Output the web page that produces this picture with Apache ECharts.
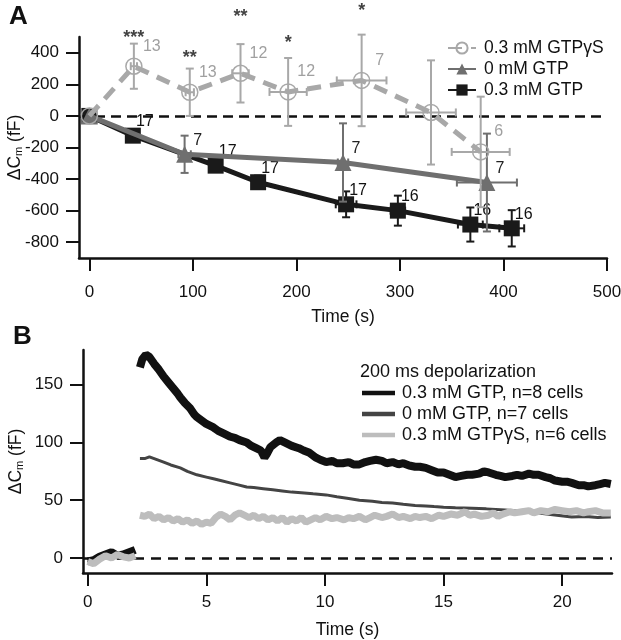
<!DOCTYPE html>
<html>
<head>
<meta charset="utf-8">
<script src="https://cdn.jsdelivr.net/npm/echarts@6/dist/echarts.min.js"></script>
<style>html,body{margin:0;padding:0;background:#fff}#c{width:621px;height:640px}</style>
</head>
<body>
<div id="c"></div>
<script>
// ---------- Panel A data ----------
const aTimeGTP = [0, 42, 122, 163, 248, 298, 368, 408];
const aValGTP  = [0, -125, -315, -420, -560, -600, -688, -712];
const aYErrGTP = [0, 20, 30, 42, 82, 95, 108, 115];
const aXErrGTP = [0, 3, 4, 5, 10, 7, 12, 12];
const aNGTP    = ['', '17', '17', '17', '17', '16', '16', '16'];

const aTime0 = [0, 92, 245, 384];
const aVal0  = [0, -243, -295, -422];
const aYErr0 = [0, 118, 248, 310];
const aXErr0 = [0, 6, 5, 29];
const aN0    = ['', '7', '7', '7'];

const aTimeS = [0, 43, 97, 146, 192, 263, 330, 378];
const aValS  = [0, 315, 150, 270, 152, 225, 22, -228];
const aYErrS = [0, 143, 150, 185, 215, 290, 330, 350];
const aXErrS = [0, 3, 4, 8, 18, 24, 24, 28];
const aNS    = ['', '13', '13', '12', '12', '7', '', '6'];

const starX = [43, 97, 146, 192, 263];
const starY = [493, 367, 626, 462, 665];
const starText = ['***', '**', '**', '*', '*'];

const aXTicks = [0, 100, 200, 300, 400, 500];
const aYTicks = [-800, -600, -400, -200, 0, 200, 400];

// ---------- Panel B data ----------
const baseT = [0, 0.25, 0.5, 0.75, 1.0, 1.25, 1.5, 1.75, 2.0];
const baseGTP = [-3, -2, 1, 3, 5, 2, 3, 5, 7];
const base0   = [-4, -2, 0, 1, 2, 1, 2, 0, 1];
const baseS   = [-3, -5, -1, 2, 0, 3, 1, 0, 2];

const bTGTP = [2.2, 2.3, 2.45, 2.6, 2.8, 3.0, 3.2, 3.4, 3.6, 3.8, 3.9, 4.1, 4.3, 4.5, 4.6, 4.8, 5.0, 5.3, 5.5, 5.7, 6.0, 6.2, 6.4, 6.7, 6.9, 7.1, 7.3, 7.45, 7.55, 7.7, 7.95, 8.1, 8.3, 8.6, 8.9, 9.1, 9.35, 9.6, 9.8, 10.05, 10.3, 10.5, 10.75, 11.0, 11.2, 11.45, 11.7, 11.9, 12.15, 12.4, 12.6, 12.85, 13.1, 13.3, 13.55, 13.8, 14.0, 14.25, 14.5, 14.75, 15.0, 15.25, 15.5, 15.75, 16.0, 16.2, 16.5, 16.7, 16.9, 17.2, 17.4, 17.6, 17.9, 18.1, 18.3, 18.6, 18.8, 19.0, 19.3, 19.5, 19.7, 20.0, 20.2, 20.4, 20.7, 20.9, 21.1, 21.4, 21.6, 21.8, 22.05];
const bVGTP = [165, 172, 176, 174, 168, 163, 157, 152, 147, 142, 139, 134, 130, 124, 122, 119, 116, 113, 110, 108, 105, 104, 102, 100, 97, 95, 93, 87, 90, 96, 100, 102, 100, 97, 95, 93, 91, 87, 85, 83, 84, 82, 82, 83, 81, 81, 83, 84, 85, 84, 82, 83, 81, 82, 80, 79, 79, 78, 76, 74, 74, 72, 70, 71, 72, 72, 73, 75, 74, 72, 71, 70, 71, 72, 71, 73, 72, 72, 70, 69, 67, 66, 66, 65, 63, 63, 62, 63, 64, 65, 64];

const bT0 = [2.2, 2.4, 2.6, 2.8, 3.0, 3.2, 3.5, 3.9, 4.2, 4.6, 5.0, 5.3, 5.6, 6.0, 6.3, 6.7, 7.0, 7.4, 7.8, 8.2, 8.6, 9.0, 9.5, 10.05, 10.5, 11.0, 11.45, 12.0, 12.4, 12.85, 13.3, 13.8, 14.25, 14.6, 15.0, 15.5, 16.2, 16.8, 17.6, 18.2, 19.0, 19.6, 20.4, 21.0, 21.5, 22.05];
const bV0 = [86, 86, 87.5, 86, 84.5, 83, 80.5, 78, 75, 72, 70, 68.5, 67, 65, 63.5, 61.5, 61, 60, 59, 58, 57, 56.5, 55.5, 54.6, 53, 51.5, 50, 49, 48, 47.6, 46.5, 45.5, 45, 44.5, 44, 43.5, 43, 42.5, 41.6, 40.5, 39, 37.5, 35.5, 36, 35, 35.5];

const bTS = [2.2, 2.4, 2.6, 2.8, 3.0, 3.2, 3.4, 3.6, 3.8, 4.0, 4.2, 4.4, 4.6, 4.8, 5.0, 5.2, 5.4, 5.6, 5.8, 6.0, 6.2, 6.4, 6.6, 6.8, 7.0, 7.2, 7.4, 7.6, 7.8, 8.0, 8.2, 8.4, 8.6, 8.8, 9.0, 9.2, 9.4, 9.6, 9.8, 10.05, 10.3, 10.5, 10.8, 11.0, 11.2, 11.45, 11.7, 11.9, 12.1, 12.4, 12.6, 12.85, 13.1, 13.3, 13.6, 13.8, 14.0, 14.25, 14.5, 14.8, 15.0, 15.3, 15.6, 15.9, 16.1, 16.3, 16.6, 16.9, 17.1, 17.3, 17.5, 17.8, 18.0, 18.3, 18.6, 18.8, 19.1, 19.4, 19.7, 20.0, 20.3, 20.6, 20.9, 21.1, 21.4, 21.7, 22.05];
const bVS = [37, 36, 38, 34, 36, 33, 35, 32, 34, 31, 33, 30, 32, 29, 31, 30, 35, 38, 36, 33, 37, 39, 37, 35, 37, 34, 36, 33, 35, 32, 35, 31, 34, 32, 35, 31, 33, 35, 33, 36, 34, 35, 33, 35, 34, 36, 33, 35, 37, 35, 36, 38, 35, 36, 34, 36, 35, 36, 34, 37, 36, 38, 37, 40, 37, 38, 36, 37, 39, 36, 38, 40, 39, 40, 41, 39, 41, 40, 42, 41, 40, 41, 39, 40, 41, 39, 39];

const bXTicks = [0, 5, 10, 15, 20];
const bYTicks = [0, 50, 100, 150];

// ---------- helpers ----------
const FONT = 'Liberation Sans, Arial, Helvetica, sans-serif';
const C_GTP = '#1a1a1a', C_0 = '#6f6f6f', C_S = '#a8a8a8';

function zip(t, v) { return t.map((x, i) => [x, v[i]]); }
function trace(bt, bv, t, v) { return zip(bt, bv).concat([[2.1, null]], zip(t, v)); }
function errData(t, v, xe, ye) { return t.map((x, i) => [x, v[i], xe[i], ye[i]]); }

function errRender(color) {
  return function (params, api) {
    const x = api.value(0), y = api.value(1), xe = api.value(2), ye = api.value(3);
    const ch = [];
    const st = { stroke: color, lineWidth: 2 };
    const cap = 4;
    if (ye > 0) {
      const t = api.coord([x, y + ye]), b = api.coord([x, y - ye]);
      ch.push({ type: 'line', shape: { x1: t[0], y1: t[1], x2: b[0], y2: b[1] }, style: st });
      ch.push({ type: 'line', shape: { x1: t[0] - cap, y1: t[1], x2: t[0] + cap, y2: t[1] }, style: st });
      ch.push({ type: 'line', shape: { x1: b[0] - cap, y1: b[1], x2: b[0] + cap, y2: b[1] }, style: st });
    }
    if (xe > 0) {
      const l = api.coord([x - xe, y]), r = api.coord([x + xe, y]);
      ch.push({ type: 'line', shape: { x1: l[0], y1: l[1], x2: r[0], y2: r[1] }, style: st });
      ch.push({ type: 'line', shape: { x1: l[0], y1: l[1] - cap, x2: l[0], y2: l[1] + cap }, style: st });
      ch.push({ type: 'line', shape: { x1: r[0], y1: r[1] - cap, x2: r[0], y2: r[1] + cap }, style: st });
    }
    return { type: 'group', children: ch };
  };
}

const axisCommon = {
  axisLine: { show: true, onZero: false, lineStyle: { color: '#111', width: 2.5 } },
  axisTick: { show: true, length: 13, lineStyle: { color: '#111', width: 2 } },
  splitLine: { show: false },
  nameMoveOverlap: false,
  nameTextStyle: { color: '#111', fontSize: 17.5, fontFamily: FONT },
};

const yName = '{a|ΔC}{s|m}{a| (fF)}';
const yNameRich = {
  a: { fontSize: 17.5, fontFamily: FONT, color: '#111', verticalAlign: 'bottom', lineHeight: 22 },
  s: { fontSize: 11, fontFamily: FONT, color: '#111', verticalAlign: 'bottom', lineHeight: 9 }
};

const chart = echarts.init(document.getElementById('c'), null, { renderer: 'canvas' });

const option = {
  animation: false,
  backgroundColor: '#fff',
  textStyle: { fontFamily: FONT },
  graphic: [
    { type: 'text', left: 9, top: 4, style: { text: 'A', font: 'bold 26px ' + FONT, fill: '#111' } },
    { type: 'text', left: 13, top: 324, style: { text: 'B', font: 'bold 26px ' + FONT, fill: '#111' } },
    { type: 'text', left: 360, top: 363, style: { text: '200 ms depolarization', font: '18px ' + FONT, fill: '#111' } }
  ],
  grid: [
    { left: 79, right: 14, top: 37, bottom: 382, containLabel: false, outerBoundsMode: 'none' },
    { left: 83, right: 9, top: 350, bottom: 67, containLabel: false, outerBoundsMode: 'none' }
  ],
  legend: [
    {
      left: 447, top: 39, padding: 0, orient: 'vertical', itemWidth: 28, itemHeight: 14, itemGap: 3,
      textStyle: { fontSize: 17.5, fontFamily: FONT, color: '#111', padding: [0, 0, 0, 3] },
      data: ['0.3 mM GTPγS', '0 mM GTP', '0.3 mM GTP']
    },
    {
      left: 362, top: 384, padding: 0, orient: 'vertical', itemWidth: 33, itemHeight: 4.5, itemGap: 3,
      icon: 'rect',
      textStyle: { fontSize: 18, fontFamily: FONT, color: '#111', padding: [0, 0, 0, 2] },
      data: ['0.3 mM GTP, n=8 cells', '0 mM GTP, n=7 cells', '0.3 mM GTPγS, n=6 cells']
    }
  ],
  xAxis: [
    Object.assign({}, axisCommon, {
      gridIndex: 0, type: 'value', min: -10, max: 500,
      name: 'Time (s)', nameLocation: 'middle', nameGap: 50,
      axisTick: Object.assign({}, axisCommon.axisTick, { customValues: aXTicks }),
      axisLabel: { customValues: aXTicks, fontSize: 17, fontFamily: FONT, color: '#111', margin: 26 }
    }),
    Object.assign({}, axisCommon, {
      gridIndex: 1, type: 'value', min: -0.2, max: 22.1,
      name: 'Time (s)', nameLocation: 'middle', nameGap: 48,
      axisTick: Object.assign({}, axisCommon.axisTick, { customValues: bXTicks }),
      axisLabel: { customValues: bXTicks, fontSize: 17, fontFamily: FONT, color: '#111', margin: 21 }
    })
  ],
  yAxis: [
    Object.assign({}, axisCommon, {
      gridIndex: 0, type: 'value', min: -900, max: 500,
      name: yName, nameLocation: 'middle', nameGap: 55, nameRotate: 90,
      nameTextStyle: { rich: yNameRich },
      axisTick: Object.assign({}, axisCommon.axisTick, { customValues: aYTicks }),
      axisLabel: { customValues: aYTicks, fontSize: 17, fontFamily: FONT, color: '#111', margin: 20 }
    }),
    Object.assign({}, axisCommon, {
      gridIndex: 1, type: 'value', min: -13, max: 180,
      name: yName, nameLocation: 'middle', nameGap: 58, nameRotate: 90,
      nameTextStyle: { rich: yNameRich },
      axisTick: Object.assign({}, axisCommon.axisTick, { customValues: bYTicks }),
      axisLabel: { customValues: bYTicks, fontSize: 17, fontFamily: FONT, color: '#111', margin: 20 }
    })
  ],
  series: [
    // ---- Panel A ----
    {
      type: 'custom', xAxisIndex: 0, yAxisIndex: 0, renderItem: errRender(C_GTP), clip: false, silent: true, z: 2,
      data: errData(aTimeGTP, aValGTP, aXErrGTP, aYErrGTP)
    },
    {
      name: '0.3 mM GTP', type: 'line', xAxisIndex: 0, yAxisIndex: 0, z: 3,
      data: zip(aTimeGTP, aValGTP), symbol: 'rect', symbolSize: 16,
      lineStyle: { color: C_GTP, width: 5 }, itemStyle: { color: C_GTP },
      label: { show: true, position: 'inside', offset: [12, -14], color: '#111', fontSize: 16, fontFamily: FONT,
        formatter: p => aNGTP[p.dataIndex] },
      markLine: {
        silent: true, symbol: 'none', label: { show: false },
        lineStyle: { color: '#111', width: 2.5, type: [10, 6] },
        data: [{ yAxis: 0 }]
      }
    },
    {
      type: 'custom', xAxisIndex: 0, yAxisIndex: 0, renderItem: errRender(C_0), clip: false, silent: true, z: 4,
      data: errData(aTime0, aVal0, aXErr0, aYErr0)
    },
    {
      name: '0 mM GTP', type: 'line', xAxisIndex: 0, yAxisIndex: 0, z: 5,
      data: zip(aTime0, aVal0), symbol: 'triangle', symbolSize: 17,
      lineStyle: { color: C_0, width: 5 }, itemStyle: { color: C_0 },
      label: { show: true, position: 'inside', offset: [13, -14], color: '#222', fontSize: 16, fontFamily: FONT,
        formatter: p => aN0[p.dataIndex] }
    },
    {
      type: 'custom', xAxisIndex: 0, yAxisIndex: 0, renderItem: errRender(C_S), clip: false, silent: true, z: 6,
      data: errData(aTimeS, aValS, aXErrS, aYErrS)
    },
    {
      name: '0.3 mM GTPγS', type: 'line', xAxisIndex: 0, yAxisIndex: 0, z: 7,
      data: zip(aTimeS, aValS), symbol: 'circle', symbolSize: 16,
      lineStyle: { color: C_S, width: 5, type: [14, 9] },
      itemStyle: { color: 'rgba(255,255,255,0)', borderColor: C_S, borderWidth: 1.5 },
      label: { show: true, position: 'inside', offset: [18, -20], color: '#a0a0a0', fontSize: 16, fontFamily: FONT,
        formatter: p => aNS[p.dataIndex] }
    },
    {
      type: 'scatter', xAxisIndex: 0, yAxisIndex: 0, symbolSize: 1, clip: false, silent: true, z: 8,
      itemStyle: { color: 'rgba(0,0,0,0)' },
      data: starX.map((x, i) => [x, starY[i], starText[i]]),
      label: { show: true, position: 'inside', color: '#111', fontSize: 18, fontFamily: FONT, fontWeight: 'bold',
        formatter: p => p.value[2] }
    },
    // ---- Panel B ----
    {
      name: '0.3 mM GTP, n=8 cells', type: 'line', xAxisIndex: 1, yAxisIndex: 1, z: 3,
      data: trace(baseT, baseGTP, bTGTP, bVGTP), symbol: 'none', connectNulls: false,
      lineStyle: { color: '#111', width: 8 }, itemStyle: { color: '#111' },
      markLine: {
        silent: true, symbol: 'none', label: { show: false },
        lineStyle: { color: '#111', width: 2.5, type: [10, 7] },
        data: [{ yAxis: 0 }]
      }
    },
    {
      name: '0 mM GTP, n=7 cells', type: 'line', xAxisIndex: 1, yAxisIndex: 1, z: 4,
      data: trace(baseT, base0, bT0, bV0), symbol: 'none', connectNulls: false,
      lineStyle: { color: '#444', width: 3 }, itemStyle: { color: '#444' }
    },
    {
      name: '0.3 mM GTPγS, n=6 cells', type: 'line', xAxisIndex: 1, yAxisIndex: 1, z: 5,
      data: trace(baseT, baseS, bTS, bVS), symbol: 'none', connectNulls: false,
      lineStyle: { color: '#bdbdbd', width: 7 }, itemStyle: { color: '#bdbdbd' }
    }
  ]
};
chart.setOption(option);
</script>
</body>
</html>
